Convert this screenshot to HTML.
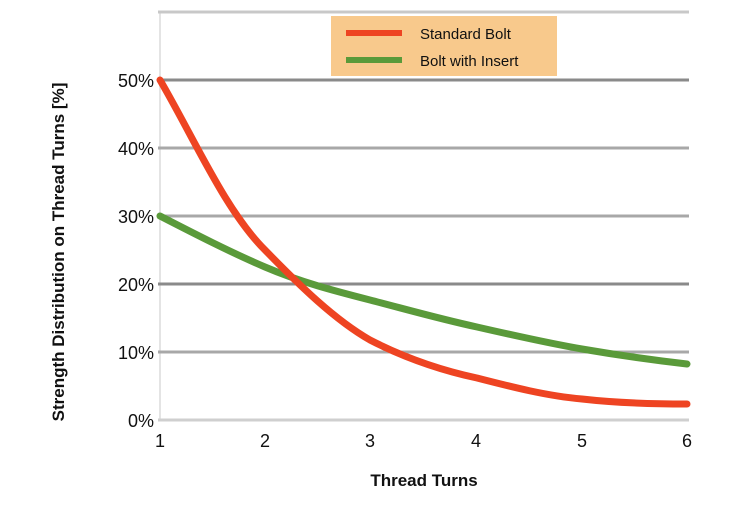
<!DOCTYPE html>
<html><head><style>
body{margin:0;background:#fff;}
svg text{font-family:"Liberation Sans",sans-serif;}
</style></head><body>
<svg width="750" height="502" viewBox="0 0 750 502" xmlns="http://www.w3.org/2000/svg">
<line x1="160" y1="12" x2="160" y2="420" stroke="#e4e4e4" stroke-width="2"/>
<g stroke-width="3">
<line x1="158" y1="12" x2="689" y2="12" stroke="#c8c8c8"/>
<line x1="158" y1="80" x2="689" y2="80" stroke="#8a8a8a"/>
<line x1="158" y1="148" x2="689" y2="148" stroke="#a8a8a8"/>
<line x1="158" y1="216" x2="689" y2="216" stroke="#a8a8a8"/>
<line x1="158" y1="284" x2="689" y2="284" stroke="#8a8a8a"/>
<line x1="158" y1="352" x2="689" y2="352" stroke="#a8a8a8"/>
<line x1="158" y1="420" x2="689" y2="420" stroke="#cfcfcf"/>
</g>
<g fill="none" stroke-width="7" stroke-linecap="round" stroke-linejoin="round">
<path d="M160,216 C195,234 230,252 265,267 C300,282 335,291 370,300 C405,309 440,319 477,327 C512,335 547,343 582,349 C617,355 652,360 687,364" stroke="#5a9a3a"/>
<path d="M160,80 C195,140 225,210 265,250 C300,286 335,320 370,340 C405,358 440,370 477,378 C512,387 547,396 582,399 C617,403 652,404 687,404" stroke="#ee4422"/>
</g>
<rect x="331" y="16" width="226" height="60" fill="#f8c98c"/>
<line x1="346" y1="33" x2="402" y2="33" stroke="#ee4422" stroke-width="6"/>
<line x1="346" y1="60" x2="402" y2="60" stroke="#5a9a3a" stroke-width="6"/>
<text x="420" y="39" font-size="15" fill="#111">Standard Bolt</text>
<text x="420" y="66" font-size="15" fill="#111">Bolt with Insert</text>
<g font-size="18" fill="#111" text-anchor="end">
<text x="154" y="87">50%</text><text x="154" y="155">40%</text><text x="154" y="223">30%</text>
<text x="154" y="291">20%</text><text x="154" y="359">10%</text><text x="154" y="427">0%</text>
</g>
<g font-size="18" fill="#111" text-anchor="middle">
<text x="160" y="447">1</text><text x="265" y="447">2</text><text x="370" y="447">3</text>
<text x="476" y="447">4</text><text x="582" y="447">5</text><text x="687" y="447">6</text>
</g>
<text x="424" y="486" font-size="17" font-weight="bold" text-anchor="middle" fill="#111">Thread Turns</text>
<text transform="translate(64,252) rotate(-90)" font-size="17" font-weight="bold" text-anchor="middle" fill="#111">Strength Distribution on Thread Turns [%]</text>
</svg>
</body></html>
